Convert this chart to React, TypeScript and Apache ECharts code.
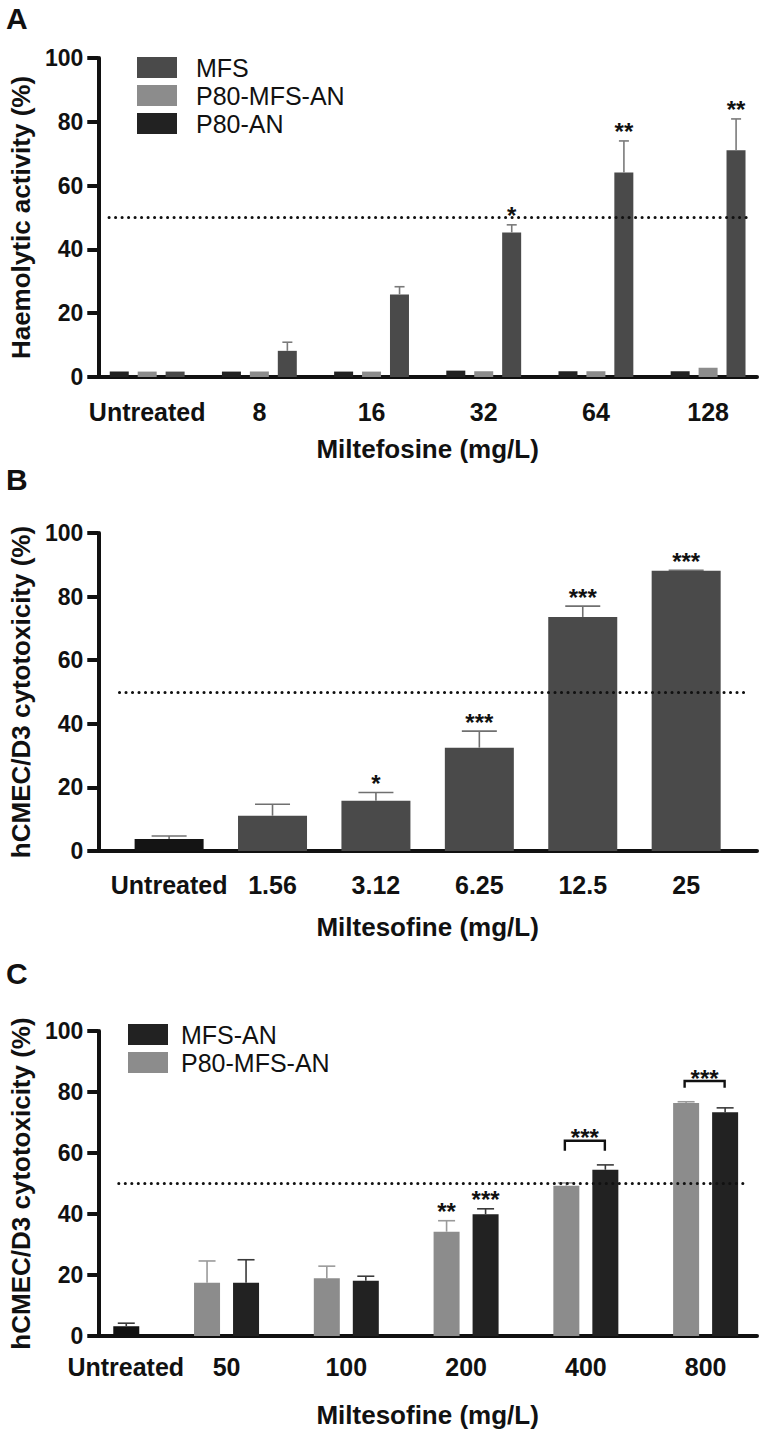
import React, { useEffect, useRef } from "react";
import * as echarts from "echarts";

// ---------- Panel A : haemolytic activity ----------
const aCategories = ["Untreated", "8", "16", "32", "64", "128"];
const aP80AN = [1.7, 1.7, 1.7, 2.0, 1.8, 1.8];
const aP80MFSAN = [1.7, 1.7, 1.7, 1.8, 1.8, 2.9];
const aMFS = [1.7, 8.2, 25.9, 45.3, 64.1, 71.1];
const aMFSErr = [0, 2.7, 2.4, 2.4, 9.9, 9.8];
const aMFSStars = ["", "", "", "*", "**", "**"];

// ---------- Panel B : hCMEC/D3 cytotoxicity, free MFS ----------
const bCategories = ["Untreated", "1.56", "3.12", "6.25", "12.5", "25"];
const bValues = [3.8, 11.1, 15.8, 32.5, 73.6, 88.1];
const bErr = [0.9, 3.6, 2.6, 5.2, 3.4, 0.2];
const bStars = ["", "", "*", "***", "***", "***"];

// ---------- Panel C : hCMEC/D3 cytotoxicity, nanoparticles ----------
const cCategories = ["Untreated", "50", "100", "200", "400", "800"];
const cP80MFSAN = [null, 17.5, 18.9, 34.2, 49.3, 76.4];
const cP80MFSANErr = [null, 7.1, 4.0, 3.6, 0.9, 0.4];
const cP80Stars = ["", "", "", "**", "", ""];
const cMFSAN = [3.2, 17.5, 18.1, 39.9, 54.5, 73.4];
const cMFSANErr = [1.0, 7.5, 1.5, 1.8, 1.6, 1.4];
const cMFSANStars = ["", "", "", "***", "", ""];
const cBracketCats = [4, 5];
const cBracketTop = [64.0, 83.6];
const cBracketDrop = [3.3, 2.2];
const cBracketText = ["***", "***"];

const yTicks = [0, 20, 40, 60, 80, 100];
const threshold = 50;

const FONT = '"Liberation Sans", Arial, Helvetica, sans-serif';
const INK = "#111111";

type Item = { x: number; y: number; e: number; off: number; cap: number; text?: string };

function errorSeries(grid: number, items: Item[], color: string) {
  return {
    type: "custom",
    xAxisIndex: grid,
    yAxisIndex: grid,
    z: 3,
    silent: true,
    clip: false,
    data: items.map((it) => [it.x, it.y + it.e]),
    renderItem: (params: any, api: any) => {
      const it = items[params.dataIndex];
      const base = api.coord([it.x, it.y]);
      const top = api.coord([it.x, it.y + it.e]);
      const cx = base[0] + it.off;
      return {
        type: "group",
        children: [
          { type: "line", shape: { x1: cx, y1: base[1], x2: cx, y2: top[1] }, style: { stroke: color, lineWidth: 1.6 } },
          { type: "line", shape: { x1: cx - it.cap / 2, y1: top[1], x2: cx + it.cap / 2, y2: top[1] }, style: { stroke: color, lineWidth: 1.6 } },
        ],
      };
    },
  };
}

function starSeries(grid: number, items: Item[], lift: number) {
  return {
    type: "custom",
    xAxisIndex: grid,
    yAxisIndex: grid,
    z: 4,
    silent: true,
    clip: false,
    data: items.map((it) => [it.x, it.y + it.e]),
    renderItem: (params: any, api: any) => {
      const it = items[params.dataIndex];
      const top = api.coord([it.x, it.y + it.e]);
      return {
        type: "text",
        x: top[0] + it.off,
        y: top[1] - lift,
        style: { text: it.text, fontSize: 24, fontWeight: "bold", fontFamily: FONT, fill: INK, align: "center", verticalAlign: "middle" },
      };
    },
  };
}

function buildItems(vals: (number | null)[], errs: (number | null)[], stars: string[] | null, off: number, cap: number) {
  const out: Item[] = [];
  vals.forEach((v, i) => {
    if (v == null) return;
    const e = errs[i] ?? 0;
    out.push({ x: i, y: v, e, off, cap, text: stars ? stars[i] : "" });
  });
  return out;
}

function dotLine(grid: number, x0: number, x1: number) {
  return {
    type: "line",
    xAxisIndex: grid,
    yAxisIndex: grid,
    data: [],
    z: 1,
    silent: true,
    markLine: {
      silent: true,
      symbol: "none",
      label: { show: false },
      lineStyle: { color: INK, width: 3, type: [0.1, 6.4], cap: "round" },
      data: [[{ coord: [x0, threshold] }, { coord: [x1, threshold] }]],
    },
  };
}

const grids = [
  { left: 97, width: 660, top: 58, height: 319 },
  { left: 97, width: 660, top: 533, height: 318 },
  { left: 97, width: 660, top: 1031, height: 305 },
];
const xRanges = [
  [-0.436, 5.436],
  [-0.685, 5.685],
  [-0.071, 5.429],
];
const xCats = [aCategories, bCategories, cCategories];
const xNames = ["Miltefosine (mg/L)", "Miltesofine (mg/L)", "Miltesofine (mg/L)"];
const yNames = ["Haemolytic activity (%)", "hCMEC/D3 cytotoxicity (%)", "hCMEC/D3 cytotoxicity (%)"];
const labelMargins = [22, 21, 18];
const nameGaps = [59, 63, 66];

function buildOption() {
  const xAxis = grids.map((_, g) => ({
    type: "value",
    gridIndex: g,
    min: xRanges[g][0],
    max: xRanges[g][1],
    axisLine: { show: true, onZero: false, lineStyle: { color: INK, width: 4 } },
    axisTick: { show: false },
    splitLine: { show: false },
    axisLabel: {
      customValues: xCats[g].map((_, i) => i),
      formatter: (v: number) => {
        const t = xCats[g][Math.round(v)];
        return g === 2 && Math.round(v) === 0 ? "{u|" + t + "}" : t;
      },
      rich: { u: { fontSize: 25, fontWeight: "bold", fontFamily: FONT, color: INK, padding: [0, 0, 0, 38] } },
      fontSize: 25,
      fontWeight: "bold",
      fontFamily: FONT,
      color: INK,
      margin: labelMargins[g],
    },
    name: xNames[g],
    nameLocation: "middle",
    nameGap: nameGaps[g],
    nameTextStyle: { fontSize: 26, fontWeight: "bold", fontFamily: FONT, color: INK },
  }));
  const yAxis = grids.map((_, g) => ({
    type: "value",
    gridIndex: g,
    min: yTicks[0],
    max: yTicks[yTicks.length - 1],
    interval: 20,
    axisLine: { show: true, onZero: false, lineStyle: { color: INK, width: 4 } },
    axisTick: { show: true, length: 11, lineStyle: { color: INK, width: 4 } },
    splitLine: { show: false },
    axisLabel: { fontSize: 23, fontWeight: "bold", fontFamily: FONT, color: INK, margin: 15 },
    name: yNames[g],
    nameLocation: "middle",
    nameGap: 58,
    nameTextStyle: { fontSize: 26, fontWeight: "bold", fontFamily: FONT, color: INK },
  }));

  const aBar = { barWidth: 19, barGap: "47%" };
  const cBar = { barWidth: 26, barGap: "50%" };

  const aMFSItems = buildItems(aMFS, aMFSErr, aMFSStars, 28, 10).filter((it) => it.e > 0);
  const bItems = buildItems(bValues, bErr, bStars, 0, 35);
  const cP80Items = buildItems(cP80MFSAN, cP80MFSANErr, cP80Stars, -19.5, 17);
  const cMFSANItems = buildItems(cMFSAN, cMFSANErr, cMFSANStars, 19.5, 17);

  const bracketSeries = {
    type: "custom",
    xAxisIndex: 2,
    yAxisIndex: 2,
    z: 4,
    silent: true,
    clip: false,
    data: cBracketCats.map((c, i) => [c, cBracketTop[i]]),
    renderItem: (params: any, api: any) => {
      const i = params.dataIndex;
      const c = cBracketCats[i];
      const top = api.coord([c, cBracketTop[i]]);
      const bot = api.coord([c, cBracketTop[i] - cBracketDrop[i]]);
      const x0 = top[0] - 21;
      const x1 = top[0] + 19;
      return {
        type: "group",
        children: [
          {
            type: "polyline",
            shape: { points: [[x0, bot[1]], [x0, top[1]], [x1, top[1]], [x1, bot[1]]] },
            style: { stroke: INK, lineWidth: 2.4, fill: null },
          },
          {
            type: "text",
            x: (x0 + x1) / 2,
            y: top[1] - 3,
            style: { text: cBracketText[i], fontSize: 24, fontWeight: "bold", fontFamily: FONT, fill: INK, align: "center", verticalAlign: "middle" },
          },
        ],
      };
    },
  };

  const series: any[] = [
    // Panel A
    dotLine(0, -0.34, 5.36),
    { type: "bar", name: "P80-AN", xAxisIndex: 0, yAxisIndex: 0, z: 2, ...aBar, itemStyle: { color: "#222222" }, data: aP80AN.map((v, i) => [i, v]) },
    { type: "bar", name: "P80-MFS-AN", xAxisIndex: 0, yAxisIndex: 0, z: 2, ...aBar, itemStyle: { color: "#8c8c8c" }, data: aP80MFSAN.map((v, i) => [i, v]) },
    { type: "bar", name: "MFS", xAxisIndex: 0, yAxisIndex: 0, z: 2, ...aBar, itemStyle: { color: "#4a4a4a" }, data: aMFS.map((v, i) => [i, v]) },
    errorSeries(0, aMFSItems, "#7a7a7a"),
    starSeries(0, aMFSItems.filter((it) => it.text), 9),
    // Panel B
    dotLine(1, -0.48, 5.6),
    {
      type: "bar",
      name: "MFS (hCMEC/D3)",
      xAxisIndex: 1,
      yAxisIndex: 1,
      z: 2,
      barWidth: 69,
      itemStyle: { color: "#4a4a4a" },
      data: bValues.map((v, i) => (i === 0 ? { value: [i, v], itemStyle: { color: "#141414" } } : [i, v])),
    },
    errorSeries(1, bItems, "#707070"),
    starSeries(1, bItems.filter((it) => it.text), 9),
    // Panel C
    dotLine(2, 0.1, 5.35),
    {
      type: "bar",
      name: "P80-MFS-AN",
      xAxisIndex: 2,
      yAxisIndex: 2,
      z: 2,
      ...cBar,
      itemStyle: { color: "#8c8c8c" },
      data: cP80MFSAN.map((v, i) => [i, v]).filter((d) => d[1] != null),
    },
    {
      type: "bar",
      name: "MFS-AN",
      xAxisIndex: 2,
      yAxisIndex: 2,
      z: 2,
      ...cBar,
      itemStyle: { color: "#222222" },
      data: cMFSAN.map((v, i) => (i === 0 ? { value: [i, v], itemStyle: { color: "#111111" } } : [i, v])),
    },
    errorSeries(2, cP80Items, "#9a9a9a"),
    errorSeries(2, cMFSANItems, "#3a3a3a"),
    starSeries(2, [...cP80Items, ...cMFSANItems].filter((it) => it.text), 9),
    bracketSeries,
  ];

  const legendBase = {
    orient: "vertical",
    icon: "rect",
    itemWidth: 40,
    itemHeight: 21,
    itemGap: 3,
    selectedMode: false,
  };

  return {
    animation: false,
    backgroundColor: "#ffffff",
    textStyle: { fontFamily: FONT },
    grid: grids.map((g) => ({ ...g, containLabel: false })),
    xAxis,
    yAxis,
    legend: [
      {
        ...legendBase,
        data: ["MFS", "P80-MFS-AN", "P80-AN"],
        left: 132,
        top: 50,
        textStyle: { fontSize: 25, fontFamily: FONT, color: INK, padding: [0, 0, 0, 14] },
      },
      {
        ...legendBase,
        data: ["MFS-AN", "P80-MFS-AN"],
        left: 123,
        top: 1017,
        textStyle: { fontSize: 25, fontFamily: FONT, color: INK, padding: [0, 0, 0, 8] },
      },
    ],
    graphic: [
      { type: "text", left: 6, top: 3, style: { text: "A", fontSize: 30, fontWeight: "bold", fontFamily: FONT, fill: INK } },
      { type: "text", left: 6, top: 464, style: { text: "B", fontSize: 30, fontWeight: "bold", fontFamily: FONT, fill: INK } },
      { type: "text", left: 6, top: 958, style: { text: "C", fontSize: 30, fontWeight: "bold", fontFamily: FONT, fill: INK } },
    ],
    series,
  };
}

export default function App() {
  const ref = useRef<HTMLDivElement>(null);
  useEffect(() => {
    document.body.style.margin = "0";
    if (!ref.current) return;
    const chart = echarts.init(ref.current, null, { renderer: "svg" });
    chart.setOption(buildOption() as any);
    return () => chart.dispose();
  }, []);
  return <div ref={ref} style={{ width: 760, height: 1431 }} />;
}
